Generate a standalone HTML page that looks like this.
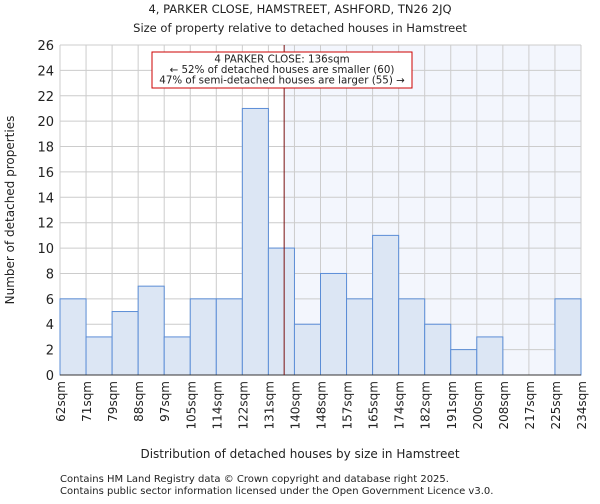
<!DOCTYPE html>
<html><head><meta charset="utf-8"><style>
body{margin:0;background:#fff;font-family:"DejaVu Sans","Liberation Sans",sans-serif;}
svg text{font-family:"DejaVu Sans","Liberation Sans",sans-serif;fill:#222;}
</style></head><body>
<svg id="chart" width="600" height="500">
<text x="300" y="13" text-anchor="middle" font-size="11.5">4, PARKER CLOSE, HAMSTREET, ASHFORD, TN26 2JQ</text>
<text x="300" y="32" text-anchor="middle" font-size="11.5">Size of property relative to detached houses in Hamstreet</text>
<g id="plot"></g>
<text x="300" y="458" text-anchor="middle" font-size="12">Distribution of detached houses by size in Hamstreet</text>
<text transform="translate(14,210) rotate(-90)" text-anchor="middle" font-size="12">Number of detached properties</text>
<text x="60" y="482" font-size="10">Contains HM Land Registry data © Crown copyright and database right 2025.</text>
<text x="60" y="494" font-size="10">Contains public sector information licensed under the Open Government Licence v3.0.</text>
</svg>
<script>
const categories=["62sqm","71sqm","79sqm","88sqm","97sqm","105sqm","114sqm","122sqm","131sqm","140sqm","148sqm","157sqm","165sqm","174sqm","182sqm","191sqm","200sqm","208sqm","217sqm","225sqm","234sqm"];
const counts=[6,3,5,7,3,6,6,21,10,4,8,6,11,6,4,2,3,0,0,6];
const yTicks=[0,2,4,6,8,10,12,14,16,18,20,22,24,26];
const binStart=62, binWidth=8.6, propertySize=136;
const X0=60,X1=581,Y0=375,Y1=45,YMAX=26;
const ns="http://www.w3.org/2000/svg";
const g=document.getElementById('plot');
const bw=(X1-X0)/counts.length;
const xb=i=>X0+i*bw;
const y=v=>Y0-(v/YMAX)*(Y0-Y1);
const xs=s=>X0+(s-binStart)/binWidth*bw;
function mk(t,a){const e=document.createElementNS(ns,t);for(const k in a)e.setAttribute(k,a[k]);g.appendChild(e);return e;}
const lx=xs(propertySize);
const sh=mk('rect',{x:lx,y:Y1,width:X1-lx,height:Y0-Y1,fill:'#f3f6fd'});


for(let i=0;i<=counts.length;i++){const l=mk('line',{x1:xb(i),x2:xb(i),y1:Y1,y2:Y0,stroke:'#cccccc','stroke-width':1});

}
yTicks.forEach(t=>{const l=mk('line',{x1:X0,x2:X1,y1:y(t),y2:y(t),stroke:'#cccccc','stroke-width':1});


const tx=mk('text',{x:X0-6,y:y(t)+5,'text-anchor':'end','font-size':13});tx.textContent=t;

});
counts.forEach((c,i)=>{if(c<=0)return;const r=mk('rect',{x:xb(i),y:y(c),width:bw,height:Y0-y(c),fill:'#dce6f4',stroke:'#5b8dd6','stroke-width':1});

});
categories.forEach((c,i)=>{const tx=mk('text',{transform:`translate(${xb(i)+5},381) rotate(-90)`,'text-anchor':'end','font-size':12});tx.textContent=c;

});
const ax=mk('line',{x1:X0,x2:X1,y1:Y0,y2:Y0,stroke:'#333','stroke-width':1});


const pl=mk('line',{x1:lx,x2:lx,y1:Y1,y2:Y0,stroke:'#7a1010','stroke-width':1});


const bx=mk('rect',{x:152,y:52,width:260,height:36,fill:'#fff',stroke:'#cc0000','stroke-width':1});


["4 PARKER CLOSE: 136sqm","← 52% of detached houses are smaller (60)","47% of semi-detached houses are larger (55) →"].forEach((s,i)=>{const t=mk('text',{x:282,y:62.5+i*10.5,'text-anchor':'middle','font-size':10.3});t.textContent=s;

});
</script>
</body></html>
